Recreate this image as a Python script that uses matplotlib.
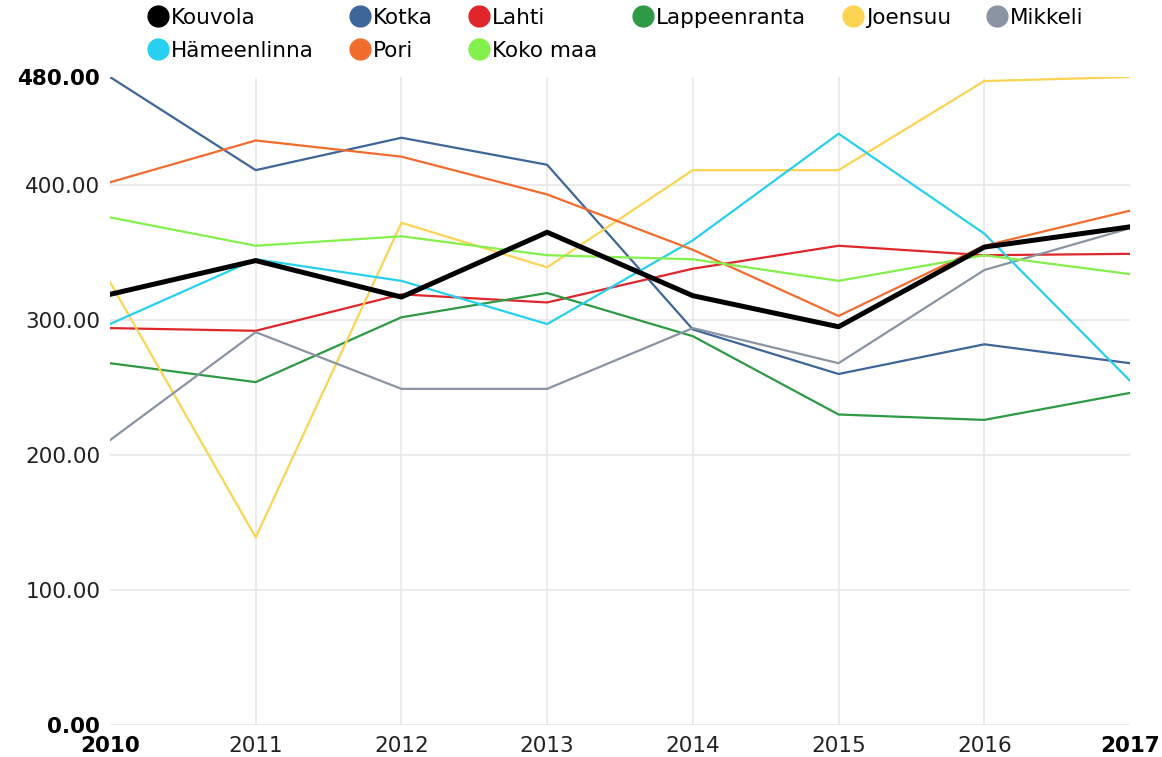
import matplotlib
matplotlib.use("Agg")
import matplotlib.pyplot as plt
from matplotlib.lines import Line2D

# years on the x axis
years = [2010, 2011, 2012, 2013, 2014, 2015, 2016, 2017]

# values
kouvola = [319, 344, 317, 365, 318, 295, 354, 369]
kotka = [480, 411, 435, 415, 293, 260, 282, 268]
lahti = [294, 292, 319, 313, 338, 355, 348, 349]
lappeenranta = [268, 254, 302, 320, 288, 230, 226, 246]
joensuu = [328, 139, 372, 339, 411, 411, 477, 480]
mikkeli = [211, 291, 249, 249, 294, 268, 337, 368]
hameenlinna = [297, 345, 329, 297, 359, 438, 364, 255]
pori = [402, 433, 421, 393, 352, 303, 355, 381]
koko_maa = [376, 355, 362, 348, 345, 329, 348, 334]

series_names = ["Kouvola", "Kotka", "Lahti", "Lappeenranta", "Joensuu",
                "Mikkeli", "Hämeenlinna", "Pori", "Koko maa"]
series_values = [kouvola, kotka, lahti, lappeenranta, joensuu,
                 mikkeli, hameenlinna, pori, koko_maa]
colors = ["#000000", "#3f6699", "#e0262a", "#2e9a45", "#fdd452",
          "#8a94a2", "#27d0f0", "#f26c2e", "#84f04c"]

y_ticks = [0, 100, 200, 300, 400, 480]

fig = plt.figure(figsize=(11.62, 7.57), dpi=100)
ax = fig.add_axes([110 / 1162, 32 / 757, 1020 / 1162, 648 / 757])

# light grid
for y in y_ticks[:-1]:
    ax.axhline(y, color="#e8e8e8", lw=1.2, zorder=0)
for yr in years[1:-1]:
    ax.axvline(yr, color="#e8e8e8", lw=1.2, zorder=0)

handles = []
for name, vals, c in zip(series_names, series_values, colors):
    lw = 3.6 if name == "Kouvola" else 1.6
    z = 5 if name == "Kouvola" else 3
    ax.plot(years, vals, color=c, lw=lw, zorder=z, solid_joinstyle="round")
    handles.append(Line2D([], [], marker="o", ls="none", color=c,
                          markersize=15, label=name))

ax.set_xlim(2010, 2017)
ax.set_ylim(0, 480)
ax.set_xticks(years)
ax.set_yticks(y_ticks)
ax.set_yticklabels([f"{v:.2f}" for v in y_ticks])
ax.tick_params(length=0, labelsize=15.5, labelcolor="#222222")
ax.tick_params(axis="y", pad=7)
ax.tick_params(axis="x", pad=8)
for lab in [ax.get_xticklabels()[0], ax.get_xticklabels()[-1],
            ax.get_yticklabels()[0], ax.get_yticklabels()[-1]]:
    lab.set_fontweight("bold")
    lab.set_color("black")
for s in ax.spines.values():
    s.set_visible(False)

# legend filled row by row like the original
order = [0, 6, 1, 7, 2, 8, 3, 4, 5]
fig.legend([handles[i] for i in order], [series_names[i] for i in order],
           ncol=6, loc="upper left", bbox_to_anchor=(132 / 1162, 1.007),
           frameon=False, fontsize=15.5, handletextpad=0.0,
           columnspacing=1.55, labelspacing=0.6, handlelength=1.2,
           borderaxespad=0.2)

fig.savefig("out.png", dpi=100)
